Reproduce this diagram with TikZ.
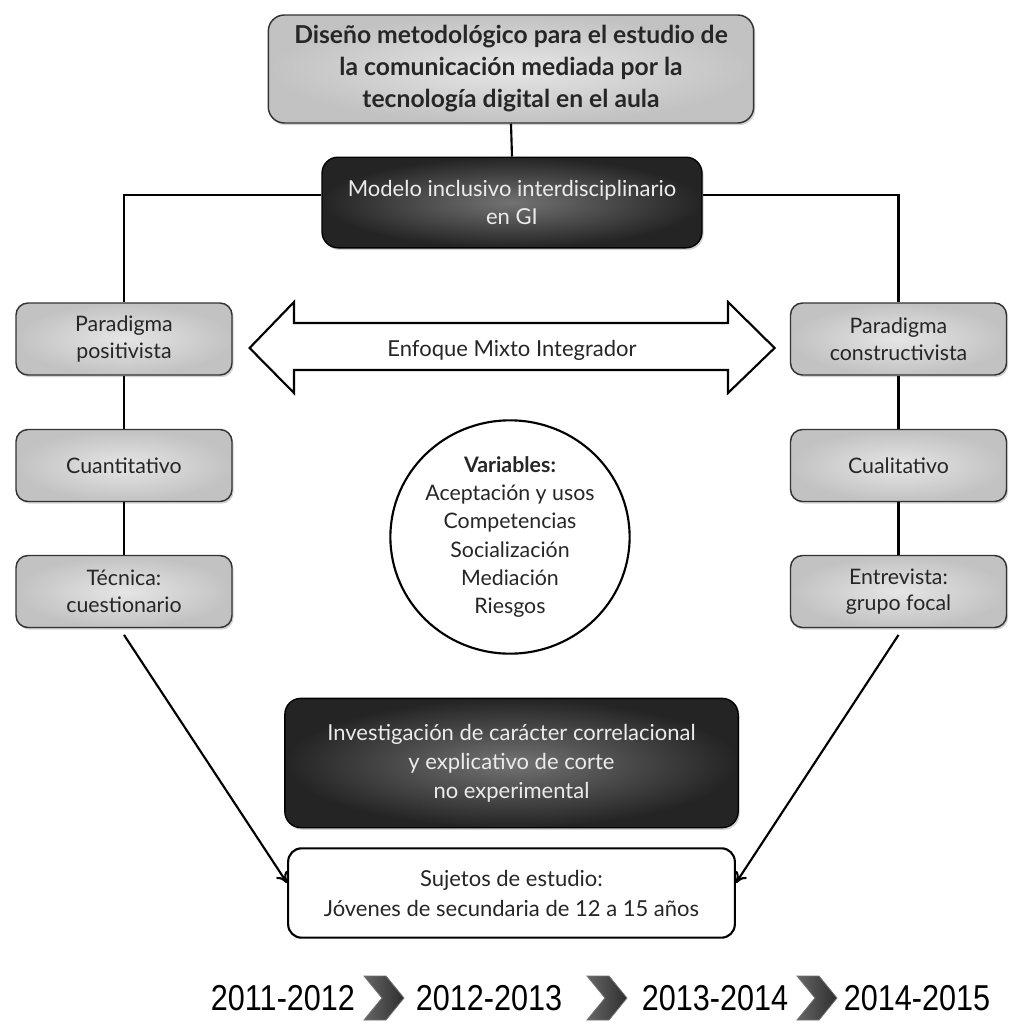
\documentclass[tikz,border=0pt]{standalone}
\usepackage{fontspec}
\setmainfont{Lato}
\newfontfamily\yearfont{Liberation Sans}
\usetikzlibrary{shapes.geometric,arrows.meta,shadows}
\tikzset{
  shad/.style={drop shadow={shadow xshift=1.2pt, shadow yshift=-1.6pt, opacity=0.35}},
  graybox/.style={shad, draw=black!80, line width=1.1pt, rounded corners=9pt,
    inner color=black!10, outer color=black!24, minimum width=162pt, minimum height=54pt,
    align=center, text=black!85, font=\fontsize{16}{20}\selectfont},
  titlebox/.style={graybox, minimum width=364pt, minimum height=81pt, rounded corners=12pt,
    font=\bfseries\fontsize{18.5}{24}\selectfont},
  darkbox/.style={shad, draw=black, line width=1pt, rounded corners=12pt,
    inner color=black!55, outer color=black!86, align=center, text=white!92!black},
  whitebox/.style={draw=black, line width=1.6pt, rounded corners=10pt, fill=white,
    align=center, text=black!85, minimum width=335pt, minimum height=67pt,
    font=\fontsize{16.5}{22.5}\selectfont},
  conn/.style={line width=1.6pt, draw=black},
  arr/.style={conn, -{To[length=8pt,width=10pt]}},
  year/.style={inner sep=0pt, font=\yearfont\fontsize{27}{27}\selectfont},
  chev/.style={left color=black!60, right color=black!82, draw=black!55, line width=0.6pt}
}
\begin{document}
\begin{tikzpicture}[x=0.75pt, y=-0.75pt]
\useasboundingbox (0,0) rectangle (1009,1025);

% title and model
\node[titlebox] (top) at (511,69) {Diseño metodológico para el estudio de\\la comunicación mediada por la\\tecnología digital en el aula};
\node[darkbox, minimum width=285pt, minimum height=68pt, font=\fontsize{16.5}{21.5}\selectfont] (m1) at (512,202.5) {Modelo inclusivo interdisciplinario\\en GI};

% side boxes
\node[graybox] (p1) at (124,339) {Paradigma\\positivista};
\node[graybox] (p2) at (124,465.5) {Cuantitativo};
\node[graybox] (p3) at (124,591.5) {Técnica:\\cuestionario};
\node[graybox] (c1) at (898.5,339) {Paradigma\\constructivista};
\node[graybox] (c2) at (898.5,465.5) {Cualitativo};
\node[graybox] (c3) at (898.5,591.5) {Entrevista:\\grupo focal};

% double arrow
\draw[line width=1.6pt, fill=white, line join=miter]
  (249.6,348) -- (294,302) -- (294,323) -- (728,323) -- (728,302) -- (774.6,348)
  -- (728,393) -- (728,370) -- (294,370) -- (294,393) -- cycle;
\node[font=\fontsize{16.5}{20}\selectfont, text=black!85] (enf) at (512,350) {Enfoque Mixto Integrador};

% variables circle
\node[ellipse, draw=black, line width=1.6pt, fill=white, minimum width=170pt, minimum height=175pt,
  inner sep=0pt, align=center, text=black!85, font=\fontsize{16}{21.25}\selectfont] (var) at (510,537)
  {\textbf{Variables:}\\Aceptación y usos\\Competencias\\Socialización\\Mediación\\Riesgos};

% bottom boxes
\node[darkbox, minimum width=340pt, minimum height=97pt, font=\fontsize{16.5}{21.75}\selectfont] (inv) at (511.5,763)
  {Investigación de carácter correlacional\\y explicativo de corte\\no experimental};
\node[whitebox] (suj) at (511.5,893) {Sujetos de estudio:\\Jóvenes de secundaria de 12 a 15 años};

% connectors
\coordinate (hl) at (124,195);
\coordinate (hr) at (898.5,195);
\draw[conn] (top.south) -- (m1.north);
\draw[conn] (m1.west |- hl) -- (hl) -- (p1.north);
\draw[conn] (m1.east |- hr) -- (hr) -- (c1.north);
\draw[conn] (p1.south) -- (p2.north);
\draw[conn] (p2.south) -- (p3.north);
\draw[conn] (c1.south) -- (c2.north);
\draw[conn] (c2.south) -- (c3.north);
\draw[arr] ([yshift=-5pt]p3.south) -- ([yshift=7.5pt]suj.west);
\draw[arr] ([yshift=-5pt]c3.south) -- ([yshift=7.5pt]suj.east);

% timeline
\node[year] (y1) at (283,998) {\scalebox{0.85}[1]{2011-2012}};
\node[year] (y2) at (489,998) {\scalebox{0.85}[1]{2012-2013}};
\node[year] (y3) at (715,998) {\scalebox{0.85}[1]{2013-2014}};
\node[year] (y4) at (917,998) {\scalebox{0.85}[1]{2014-2015}};
\foreach \cx in {384,607,817}{
  \draw[chev] (\cx-20,976) -- (\cx+2,976) -- (\cx+20,998) -- (\cx+2,1020) -- (\cx-20,1020) -- (\cx-2,998) -- cycle;
}
\end{tikzpicture}
\end{document}
